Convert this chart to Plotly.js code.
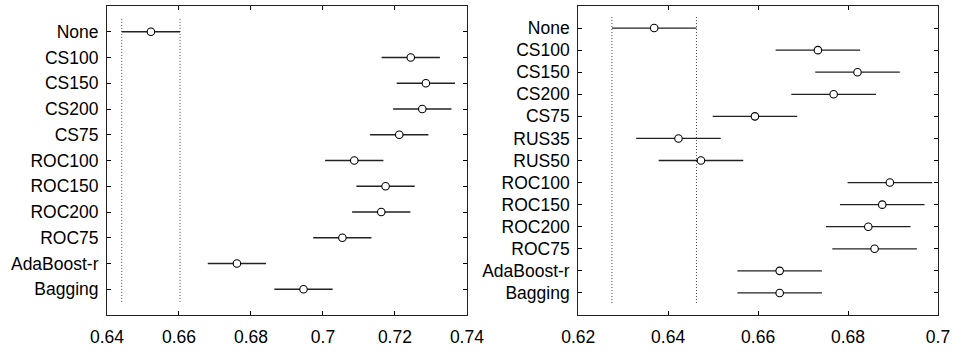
<!DOCTYPE html>
<html>
<head>
<meta charset="utf-8">
<script src="https://cdn.plot.ly/plotly-3.0.1.min.js"></script>
<style>
  html, body { margin: 0; padding: 0; background: #fff; }
  #chart { width: 954px; height: 352px; }
</style>
</head>
<body>
<div id="chart"></div>
<script>
// Group means with comparison intervals (mean ± half-width), one panel per experiment.
const leftGroups = ["None", "CS100", "CS150", "CS200", "CS75", "ROC100", "ROC150", "ROC200", "ROC75", "AdaBoost-r", "Bagging"];
const leftMeans = [0.6522, 0.7244, 0.7286, 0.7276, 0.7212, 0.7087, 0.7174, 0.7162, 0.7054, 0.6761, 0.6946];
const leftHalfWidth = [0.0081, 0.0081, 0.0081, 0.0081, 0.0081, 0.0081, 0.0081, 0.0081, 0.0081, 0.0081, 0.0081];
const leftTicks = [0.64, 0.66, 0.68, 0.70, 0.72, 0.74];

const rightGroups = ["None", "CS100", "CS150", "CS200", "CS75", "RUS35", "RUS50", "ROC100", "ROC150", "ROC200", "ROC75", "AdaBoost-r", "Bagging"];
const rightMeans = [0.6369, 0.6733, 0.6821, 0.6768, 0.6593, 0.6423, 0.6473, 0.6893, 0.6876, 0.6845, 0.6859, 0.6648, 0.6648];
const rightHalfWidth = [0.0094, 0.0094, 0.0094, 0.0094, 0.0094, 0.0094, 0.0094, 0.0094, 0.0094, 0.0094, 0.0094, 0.0094, 0.0094];
const rightTicks = [0.62, 0.64, 0.66, 0.68, 0.70];

const FONT = "Liberation Sans, Arial, sans-serif";
const FONT_SIZE = 17.5;

function panelTraces(groups, means, half, xa, ya) {
  const n = groups.length;
  const rows = groups.map((_, i) => i + 1);
  const traces = [];
  // reference lines at the bounds of the first group's interval
  const lo = means[0] - half[0];
  const hi = means[0] + half[0];
  [lo, hi].forEach(x => {
    traces.push({
      type: "scatter", mode: "lines", xaxis: xa, yaxis: ya,
      x: [x, x], y: [0.5, n + 0.5],
      line: { color: "#444", width: 1, dash: "1px,2px" },
      hoverinfo: "skip", showlegend: false
    });
  });
  // interval segments
  traces.push({
    type: "scatter", mode: "markers", xaxis: xa, yaxis: ya,
    x: means, y: rows,
    marker: { size: 0.1, color: "rgba(0,0,0,0)" },
    error_x: { type: "data", symmetric: true, array: half, color: "#222", thickness: 1.3, width: 0 },
    showlegend: false, hoverinfo: "skip"
  });
  // group means
  traces.push({
    type: "scatter", mode: "markers", xaxis: xa, yaxis: ya,
    x: means, y: rows,
    marker: { symbol: "circle", size: 7.5, color: "#fff", line: { color: "#000", width: 1.1 } },
    showlegend: false
  });
  return traces;
}

const traces = [
  ...panelTraces(leftGroups, leftMeans, leftHalfWidth, "x", "y"),
  ...panelTraces(rightGroups, rightMeans, rightHalfWidth, "x2", "y2")
];

function xAxis(domain, ticks, anchor) {
  return {
    domain: domain, anchor: anchor,
    range: [ticks[0], ticks[ticks.length - 1]],
    tickvals: ticks, ticktext: ticks.map(v => String(+v.toFixed(2))),
    ticks: "inside", ticklen: 4, tickcolor: "#000",
    showline: true, linecolor: "#222", linewidth: 1, mirror: "ticks",
    showgrid: false, zeroline: false, ticklabelstandoff: 6,
    tickfont: { family: FONT, size: FONT_SIZE, color: "#000" }
  };
}
function yAxis(groups, anchor) {
  const n = groups.length;
  return {
    anchor: anchor,
    range: [n + 1, 0],
    tickvals: groups.map((_, i) => i + 1), ticktext: groups,
    ticks: "inside", ticklen: 4, tickcolor: "#000",
    showline: true, linecolor: "#222", linewidth: 1, mirror: "ticks",
    showgrid: false, zeroline: false, ticklabelstandoff: 4,
    tickfont: { family: FONT, size: FONT_SIZE, color: "#000" }
  };
}

const layout = {
  width: 954, height: 352,
  margin: { l: 107, r: 16, t: 6, b: 37 },
  paper_bgcolor: "#fff", plot_bgcolor: "#fff",
  font: { family: FONT, color: "#000" },
  xaxis: xAxis([0, 0.4331], leftTicks, "y"),
  yaxis: yAxis(leftGroups, "x"),
  xaxis2: xAxis([0.5670, 1], rightTicks, "y2"),
  yaxis2: yAxis(rightGroups, "x2"),
  showlegend: false
};

Plotly.newPlot("chart", traces, layout, { displayModeBar: false, staticPlot: true });
</script>
</body>
</html>
